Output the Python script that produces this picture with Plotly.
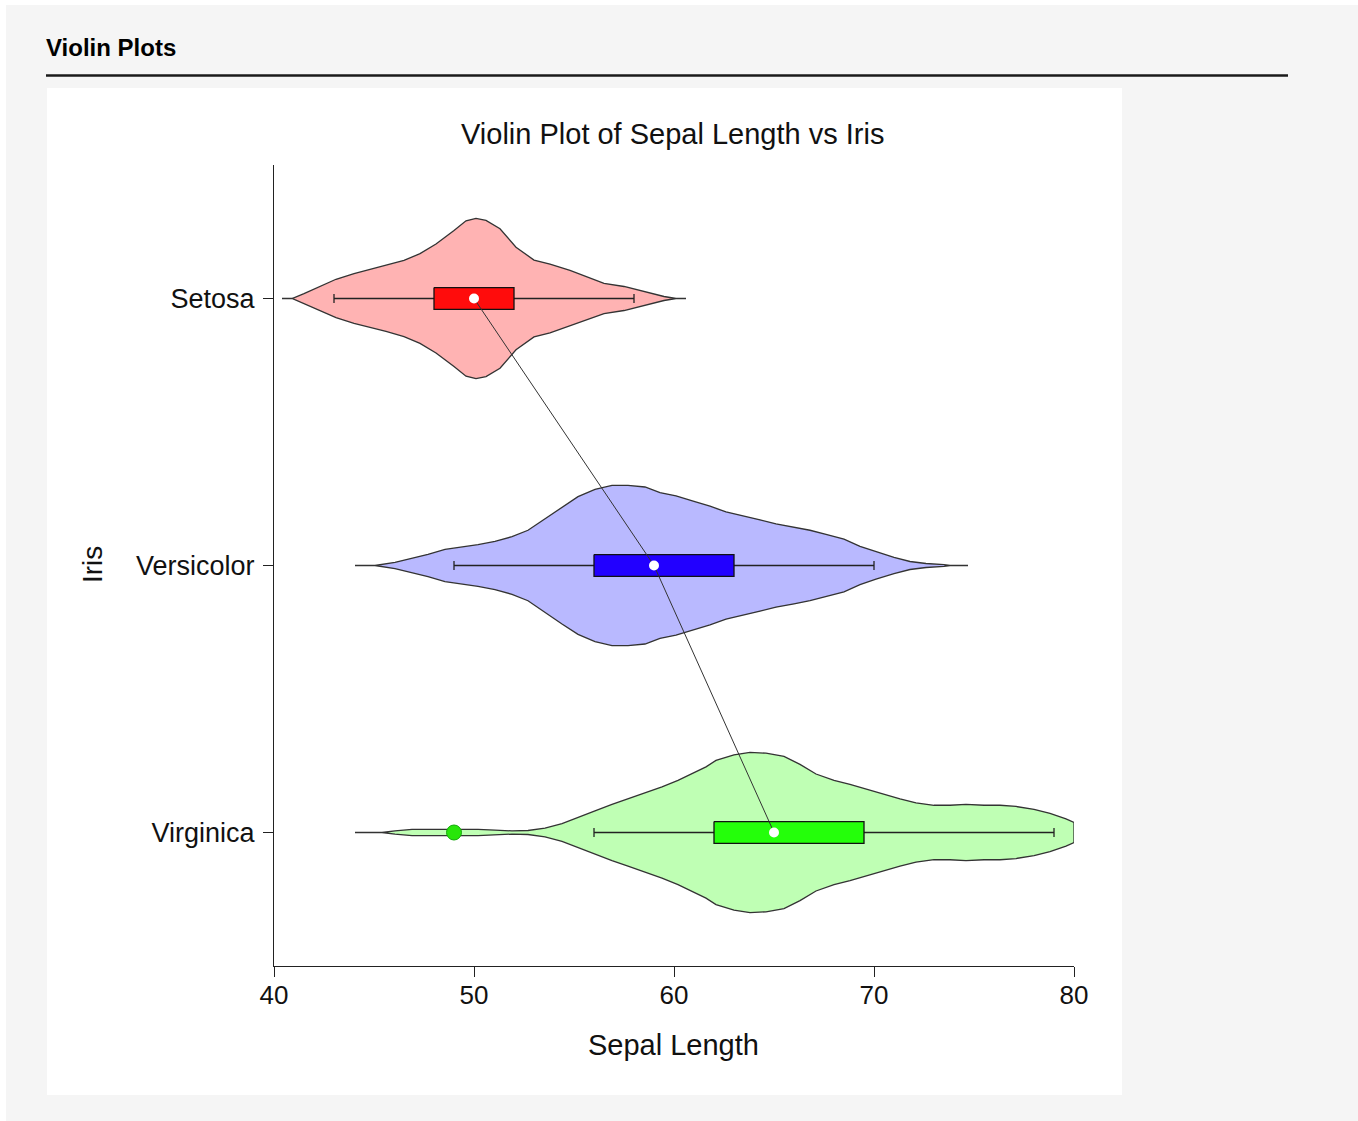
import plotly.graph_objects as go

# ---- data -------------------------------------------------------------
species = ["Setosa", "Versicolor", "Virginica"]

# kernel density outlines (sepal length, relative density 0..1)
setosa_x = [40.4, 40.9, 41.5, 42.3, 43.1, 44.0, 44.8, 45.6, 46.5, 47.3, 48.1, 49.0, 49.6,
            50.1, 50.6, 51.3, 52.1, 53.0, 53.8, 54.8, 55.6, 56.5, 57.5, 58.5, 59.5, 60.1, 60.6]
setosa_d = [0, 0, 0.06, 0.15, 0.24, 0.31, 0.36, 0.41, 0.475, 0.56, 0.68, 0.85, 0.97,
            1.0, 0.975, 0.87, 0.64, 0.48, 0.43, 0.35, 0.27, 0.19, 0.15, 0.09, 0.025, 0, 0]

versicolor_x = [44.05, 45.05, 46.05, 46.9, 47.7, 48.55, 49.4, 50.2, 51.05, 51.9, 52.7, 53.55,
                54.4, 55.2, 56.05, 56.9, 57.7, 58.55, 59.3, 60.1, 61.0, 61.8, 62.6, 63.5, 64.3,
                65.1, 66.0, 66.8, 67.6, 68.5, 69.3, 70.1, 71.0, 71.8, 72.6, 73.5, 73.8, 74.7]
versicolor_d = [0, 0, 0.04, 0.09, 0.14, 0.2, 0.23, 0.26, 0.3, 0.36, 0.44, 0.58,
                0.73, 0.86, 0.95, 1.0, 1.0, 0.98, 0.91, 0.87, 0.8, 0.74, 0.67, 0.62, 0.57,
                0.52, 0.48, 0.44, 0.39, 0.33, 0.24, 0.17, 0.1, 0.05, 0.025, 0.01, 0, 0]

virginica_x = [44.05, 45.4, 46.05, 46.9, 47.7, 48.55, 49.4, 50.2, 51.05, 51.9, 52.7, 53.55,
               54.4, 55.2, 56.05, 56.9, 57.7, 58.55, 59.4, 60.2, 61.05, 61.6, 62.1, 63.0,
               63.8, 64.6, 65.5, 66.3, 67.1, 68.0, 68.8, 69.6, 70.5, 71.3, 72.1, 73.0, 73.8,
               74.6, 75.5, 76.3, 77.1, 78.0, 78.8, 79.6, 80.0]
virginica_d = [0, 0, 0.02, 0.04, 0.04, 0.04, 0.04, 0.04, 0.03, 0.02, 0.025, 0.055,
               0.11, 0.19, 0.27, 0.35, 0.42, 0.49, 0.57, 0.65, 0.75, 0.82, 0.9, 0.97,
               1.0, 0.99, 0.95, 0.85, 0.73, 0.65, 0.6, 0.54, 0.48, 0.42, 0.37, 0.34, 0.34,
               0.35, 0.34, 0.34, 0.325, 0.29, 0.24, 0.17, 0.125]

# box plot statistics
q1 = [48, 56, 62]
median = [50, 59, 65]
q3 = [52, 63, 69.5]
whisker_low = [43, 49, 56]
whisker_high = [58, 70, 79]
outlier_species = ["Virginica"]
outlier_values = [49]

x_ticks = [40, 50, 60, 70, 80]

# ---- styling ----------------------------------------------------------
violin_fill = ["rgb(255,179,179)", "rgb(185,185,255)", "rgb(191,255,180)"]
box_fill = ["rgb(255,12,12)", "rgb(34,0,255)", "rgb(36,255,10)"]
outline = "#333333"
FONT = "Liberation Sans, Arial, sans-serif"
HALF = 0.30      # max violin half-width (category units)
BOX_H = 0.041    # box half-height
CAP = 0.017      # whisker cap half-length

outlines = [(setosa_x, setosa_d), (versicolor_x, versicolor_d), (virginica_x, virginica_d)]
pos = {name: i for i, name in enumerate(species)}

fig = go.Figure()

# violins
for i, (vx, vd) in enumerate(outlines):
    xs = list(vx) + list(reversed(vx)) + [vx[0]]
    ys = [i - d * HALF for d in vd] + [i + d * HALF for d in reversed(vd)] + [i]
    fig.add_trace(go.Scatter(x=xs, y=ys, mode="lines", fill="toself",
                             fillcolor=violin_fill[i],
                             line=dict(color=outline, width=1.3),
                             hoverinfo="skip", showlegend=False))

# whiskers and caps
for i in range(len(species)):
    wx = [whisker_low[i], q1[i], None, q3[i], whisker_high[i], None,
          whisker_low[i], whisker_low[i], None, whisker_high[i], whisker_high[i]]
    wy = [i, i, None, i, i, None, i - CAP, i + CAP, None, i - CAP, i + CAP]
    fig.add_trace(go.Scatter(x=wx, y=wy, mode="lines",
                             line=dict(color="#222222", width=1.3),
                             hoverinfo="skip", showlegend=False))

# boxes
for i in range(len(species)):
    bx = [q1[i], q3[i], q3[i], q1[i], q1[i]]
    by = [i - BOX_H, i - BOX_H, i + BOX_H, i + BOX_H, i - BOX_H]
    fig.add_trace(go.Scatter(x=bx, y=by, mode="lines", fill="toself",
                             fillcolor=box_fill[i],
                             line=dict(color="#111111", width=1.3),
                             hoverinfo="skip", showlegend=False))

# line joining the medians
fig.add_trace(go.Scatter(x=median, y=list(range(len(species))), mode="lines",
                         line=dict(color="#333333", width=1),
                         hoverinfo="skip", showlegend=False))

# median markers
fig.add_trace(go.Scatter(x=median, y=list(range(len(species))), mode="markers",
                         marker=dict(color="white", size=10, line=dict(width=0)),
                         hoverinfo="skip", showlegend=False))

# outliers
fig.add_trace(go.Scatter(x=outlier_values, y=[pos[s] for s in outlier_species],
                         mode="markers",
                         marker=dict(color="rgb(40,230,10)", size=15,
                                     line=dict(color="rgb(20,170,10)", width=1)),
                         hoverinfo="skip", showlegend=False))

# ---- page decoration (paper coordinates) -------------------------------
W, H = 1358, 1121
L, R, T, B = 274, 1074, 165, 966


def px(xp):
    return (xp - L) / (R - L)


def py(yp):
    return (B - yp) / (B - T)


shapes = [
    dict(type="rect", xref="paper", yref="paper", layer="below",
         x0=px(6), x1=px(1370), y0=py(1130), y1=py(5),
         fillcolor="#f5f5f5", line=dict(width=0)),
    dict(type="rect", xref="paper", yref="paper", layer="below",
         x0=px(47), x1=px(1122), y0=py(1095), y1=py(88),
         fillcolor="white", line=dict(width=0)),
    dict(type="line", xref="paper", yref="paper",
         x0=px(46), x1=px(1288), y0=py(75.5), y1=py(75.5),
         line=dict(color="#1a1a1a", width=2.5)),
]

annotations = [
    dict(text="<b>Violin Plots</b>", xref="paper", yref="paper",
         x=px(44), y=py(47), xanchor="left", yanchor="middle", showarrow=False,
         font=dict(family=FONT, size=24, color="#000000")),
    dict(text="Violin Plot of Sepal Length vs Iris", xref="paper", yref="paper",
         x=px(672), y=py(134), xanchor="center", yanchor="middle", showarrow=False,
         font=dict(family=FONT, size=29, color="#111111")),
    dict(text="Sepal Length", xref="paper", yref="paper",
         x=px(673), y=py(1045), xanchor="center", yanchor="middle", showarrow=False,
         font=dict(family=FONT, size=29, color="#111111")),
    dict(text="Iris", xref="paper", yref="paper", textangle=-90,
         x=px(92), y=py(565), xanchor="center", yanchor="middle", showarrow=False,
         font=dict(family=FONT, size=28, color="#111111")),
]

fig.update_layout(
    width=W, height=H,
    margin=dict(l=L, r=W - R, t=T, b=H - B, pad=0),
    paper_bgcolor="white",
    plot_bgcolor="white",
    shapes=shapes,
    annotations=annotations,
    showlegend=False,
    xaxis=dict(range=[40, 80], tickvals=x_ticks, ticktext=[str(v) for v in x_ticks],
               showgrid=False, zeroline=False, showline=True, linecolor="#222222",
               linewidth=1.3, ticks="outside", ticklen=10, tickcolor="#222222",
               tickwidth=1.3, ticklabelstandoff=-4,
               tickfont=dict(family=FONT, size=26, color="#111111")),
    yaxis=dict(range=[len(species) - 0.5, -0.5], tickvals=list(range(len(species))),
               ticktext=species, showgrid=False, zeroline=False, showline=True,
               linecolor="#222222", linewidth=1.3, ticks="outside", ticklen=10,
               tickcolor="#222222", tickwidth=1.3, ticklabelstandoff=3,
               tickfont=dict(family=FONT, size=27, color="#111111")),
)

fig.write_html("out.html")
